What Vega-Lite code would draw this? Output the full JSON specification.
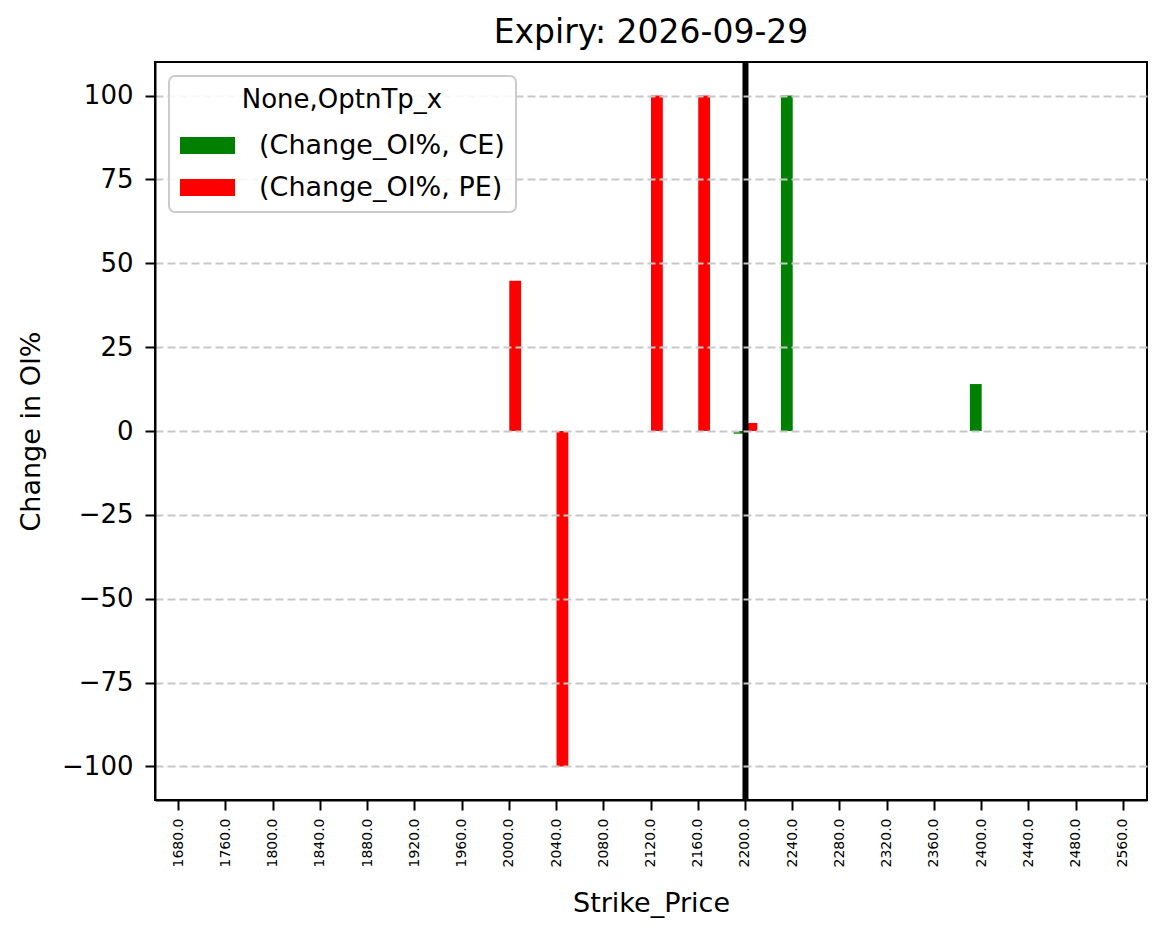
{
  "$schema": "https://vega.github.io/schema/vega-lite/v6.json",
  "autosize": {"type": "none"},
  "padding": {"left": 155, "top": 62, "right": 19, "bottom": 139},
  "width": 992,
  "height": 738,
  "background": "white",
  "title": {"text": "Expiry: 2026-09-29", "fontSize": 33, "fontWeight": "normal", "font": "DejaVu Sans", "color": "black", "offset": 9},
  "config": {
    "font": "DejaVu Sans",
    "view": {"stroke": "black", "strokeWidth": 2},
    "axis": {"domainColor": "black", "domainWidth": 2, "tickColor": "black", "tickWidth": 2, "tickSize": 10, "labelColor": "black", "titleColor": "black", "titleFontWeight": "normal", "labelFont": "DejaVu Sans", "titleFont": "DejaVu Sans"}
  },
  "data": {"values": [
    {"Strike_Price": "1680.0", "OptnTp": "CE", "Change_OI": 0}, {"Strike_Price": "1680.0", "OptnTp": "PE", "Change_OI": 0},
    {"Strike_Price": "1760.0", "OptnTp": "CE", "Change_OI": 0}, {"Strike_Price": "1760.0", "OptnTp": "PE", "Change_OI": 0},
    {"Strike_Price": "1800.0", "OptnTp": "CE", "Change_OI": 0}, {"Strike_Price": "1800.0", "OptnTp": "PE", "Change_OI": 0},
    {"Strike_Price": "1840.0", "OptnTp": "CE", "Change_OI": 0}, {"Strike_Price": "1840.0", "OptnTp": "PE", "Change_OI": 0},
    {"Strike_Price": "1880.0", "OptnTp": "CE", "Change_OI": 0}, {"Strike_Price": "1880.0", "OptnTp": "PE", "Change_OI": 0},
    {"Strike_Price": "1920.0", "OptnTp": "CE", "Change_OI": 0}, {"Strike_Price": "1920.0", "OptnTp": "PE", "Change_OI": 0},
    {"Strike_Price": "1960.0", "OptnTp": "CE", "Change_OI": 0}, {"Strike_Price": "1960.0", "OptnTp": "PE", "Change_OI": 0},
    {"Strike_Price": "2000.0", "OptnTp": "CE", "Change_OI": 0}, {"Strike_Price": "2000.0", "OptnTp": "PE", "Change_OI": 44.8},
    {"Strike_Price": "2040.0", "OptnTp": "CE", "Change_OI": 0}, {"Strike_Price": "2040.0", "OptnTp": "PE", "Change_OI": -100},
    {"Strike_Price": "2080.0", "OptnTp": "CE", "Change_OI": 0}, {"Strike_Price": "2080.0", "OptnTp": "PE", "Change_OI": 0},
    {"Strike_Price": "2120.0", "OptnTp": "CE", "Change_OI": 0}, {"Strike_Price": "2120.0", "OptnTp": "PE", "Change_OI": 100},
    {"Strike_Price": "2160.0", "OptnTp": "CE", "Change_OI": 0}, {"Strike_Price": "2160.0", "OptnTp": "PE", "Change_OI": 100},
    {"Strike_Price": "2200.0", "OptnTp": "CE", "Change_OI": -0.8}, {"Strike_Price": "2200.0", "OptnTp": "PE", "Change_OI": 2.4},
    {"Strike_Price": "2240.0", "OptnTp": "CE", "Change_OI": 100}, {"Strike_Price": "2240.0", "OptnTp": "PE", "Change_OI": 0},
    {"Strike_Price": "2280.0", "OptnTp": "CE", "Change_OI": 0}, {"Strike_Price": "2280.0", "OptnTp": "PE", "Change_OI": 0},
    {"Strike_Price": "2320.0", "OptnTp": "CE", "Change_OI": 0}, {"Strike_Price": "2320.0", "OptnTp": "PE", "Change_OI": 0},
    {"Strike_Price": "2360.0", "OptnTp": "CE", "Change_OI": 0}, {"Strike_Price": "2360.0", "OptnTp": "PE", "Change_OI": 0},
    {"Strike_Price": "2400.0", "OptnTp": "CE", "Change_OI": 14}, {"Strike_Price": "2400.0", "OptnTp": "PE", "Change_OI": 0},
    {"Strike_Price": "2440.0", "OptnTp": "CE", "Change_OI": 0}, {"Strike_Price": "2440.0", "OptnTp": "PE", "Change_OI": 0},
    {"Strike_Price": "2480.0", "OptnTp": "CE", "Change_OI": 0}, {"Strike_Price": "2480.0", "OptnTp": "PE", "Change_OI": 0},
    {"Strike_Price": "2560.0", "OptnTp": "CE", "Change_OI": 0}, {"Strike_Price": "2560.0", "OptnTp": "PE", "Change_OI": 0}
  ]},
  "layer": [
    {
      "mark": {"type": "bar", "strokeWidth": 0},
      "encoding": {
        "x": {
          "field": "Strike_Price", "type": "nominal", "sort": null,
          "scale": {"paddingInner": 0.5, "paddingOuter": 0.25},
          "axis": {"title": "Strike_Price", "titleFontSize": 27, "titlePadding": 24, "labelAngle": -90, "labelFontSize": 14, "labelPadding": 8, "grid": false}
        },
        "xOffset": {"field": "OptnTp", "type": "nominal", "scale": {"domain": ["CE", "PE"], "paddingInner": 0, "paddingOuter": 0}},
        "y": {
          "field": "Change_OI", "type": "quantitative",
          "scale": {"domain": [-110, 110], "nice": false, "zero": false},
          "axis": {"title": "Change in OI%", "titleFontSize": 27, "titlePadding": 16, "labelFontSize": 26, "labelPadding": 12,
                   "values": [-100, -75, -50, -25, 0, 25, 50, 75, 100],
                   "labelExpr": "replace(format(datum.value, 'd'), '-', '−')",
                   "grid": true, "gridColor": "#c8c8c8", "gridDash": [8, 4], "gridWidth": 2, "zindex": 1}
        },
        "color": {
          "field": "OptnTp", "type": "nominal",
          "scale": {"domain": ["CE", "PE"], "range": ["#008000", "#ff0000"]},
          "legend": {
            "title": "None,OptnTp_x",
            "orient": "top-left", "offset": 14, "zindex": 5,
            "labelExpr": "datum.value == 'CE' ? '(Change_OI%, CE)' : '(Change_OI%, PE)'",
            "titleFontSize": 26, "titleFontWeight": "normal", "titleColor": "black", "titleAnchor": "middle", "titleAlign": "center", "titlePadding": 5, "titleLimit": 0,
            "labelFontSize": 27, "labelColor": "black", "labelOffset": 24, "labelLimit": 0,
            "symbolType": "M-1,-0.31L1,-0.31L1,0.31L-1,0.31Z", "symbolSize": 3025, "symbolStrokeWidth": 0, "symbolOpacity": 1,
            "rowPadding": 1,
            "padding": 11, "strokeColor": "#cccccc", "cornerRadius": 6, "fillColor": "rgba(255,255,255,0.85)",
            "encode": {"legend": {"update": {"strokeWidth": {"value": 2}}}}
          }
        }
      }
    },
    {
      "data": {"values": [{"Strike_Price": "2200.0"}]},
      "mark": {"type": "rule", "color": "black", "strokeWidth": 6},
      "encoding": {"x": {"field": "Strike_Price", "type": "nominal", "bandPosition": 0.5}}
    }
  ]
}
